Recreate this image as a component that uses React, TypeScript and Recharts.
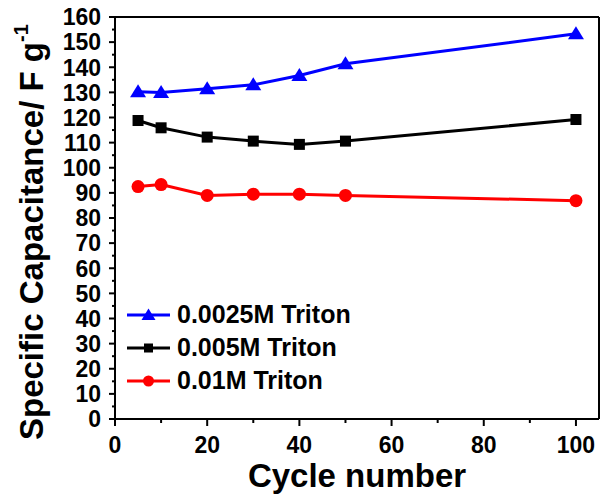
import React from "react";
import {
  LineChart,
  Line,
  XAxis,
  YAxis,
  ReferenceLine,
} from "recharts";

// cycle numbers measured
const cycles = [5, 10, 20, 30, 40, 50, 100];

// specific capacitance (F g-1) for each Triton concentration
const triton0025 = [130.2, 130.0, 131.4, 133.0, 136.7, 141.4, 153.3];
const triton005 = [118.8, 115.9, 112.2, 110.6, 109.3, 110.6, 119.2];
const triton01 = [92.5, 93.3, 89.0, 89.5, 89.5, 89.0, 86.9];

const seriesNames = ["0.0025M Triton", "0.005M Triton", "0.01M Triton"];

const xTicks = [0, 10, 20, 30, 40, 50, 60, 70, 80, 90, 100];
const yTicks = [
  0, 5, 10, 15, 20, 25, 30, 35, 40, 45, 50, 55, 60, 65, 70, 75, 80, 85, 90,
  95, 100, 105, 110, 115, 120, 125, 130, 135, 140, 145, 150, 155, 160,
];

const data = cycles.map((c, i) => ({
  cycle: c,
  a: triton0025[i],
  b: triton005[i],
  c: triton01[i],
}));

const FONT = "'Liberation Sans', Arial, sans-serif";

const Triangle = (props: any) => {
  const { cx, cy, fill, index } = props;
  if (cx == null || cy == null) return null;
  return (
    <polygon
      key={`tri-${index}`}
      points={`${cx},${cy - 7.5} ${cx - 8},${cy + 5.5} ${cx + 8},${cy + 5.5}`}
      fill={fill}
    />
  );
};

const Square = (props: any) => {
  const { cx, cy, fill, index } = props;
  if (cx == null || cy == null) return null;
  return (
    <rect key={`sq-${index}`} x={cx - 5.5} y={cy - 5.5} width={11} height={11} fill={fill} />
  );
};

const Dot = (props: any) => {
  const { cx, cy, fill, index } = props;
  if (cx == null || cy == null) return null;
  return <circle key={`ci-${index}`} cx={cx} cy={cy} r={6.5} fill={fill} />;
};

const YTick = (props: any) => {
  const { x, y, payload } = props;
  const major = payload.value % 10 === 0;
  return (
    <g>
      <line x1={x - (major ? 6 : 3)} x2={x} y1={y} y2={y} stroke="#000" strokeWidth={2} />
      {major && (
        <text
          x={x - 14}
          y={y}
          dy="0.36em"
          textAnchor="end"
          fontFamily={FONT}
          fontWeight="bold"
          fontSize={23}
          fill="#000"
        >
          {payload.value}
        </text>
      )}
    </g>
  );
};

const XTick = (props: any) => {
  const { x, y, payload } = props;
  const major = payload.value % 20 === 0;
  return (
    <g>
      <line x1={x} x2={x} y1={y} y2={y + (major ? 7 : 4)} stroke="#000" strokeWidth={2} />
      {major && (
        <text
          x={x}
          y={y + 34}
          textAnchor="middle"
          fontFamily={FONT}
          fontWeight="bold"
          fontSize={23}
          fill="#000"
        >
          {payload.value}
        </text>
      )}
    </g>
  );
};

const YLabel = (props: any) => {
  const { viewBox } = props;
  const x = viewBox.x + 43;
  const y = viewBox.y + viewBox.height + 21;
  return (
    <text
      x={x}
      y={y}
      transform={`rotate(-90, ${x}, ${y})`}
      fontFamily={FONT}
      fontWeight="bold"
      fontSize={33}
      fill="#000"
    >
      Specific Capacitance/ F g
      <tspan dy={-15} fontSize={20}>
        -1
      </tspan>
    </text>
  );
};

const XLabel = (props: any) => {
  const { viewBox } = props;
  return (
    <text
      x={viewBox.x + viewBox.width / 2}
      y={viewBox.y + 68}
      textAnchor="middle"
      fontFamily={FONT}
      fontWeight="bold"
      fontSize={33}
      fill="#000"
    >
      Cycle number
    </text>
  );
};

const legendItems = [
  { name: seriesNames[0], color: "#0000FF", shape: "triangle" },
  { name: seriesNames[1], color: "#000000", shape: "square" },
  { name: seriesNames[2], color: "#FF0000", shape: "circle" },
];

const LegendMarker = ({ color, shape }: { color: string; shape: string }) => (
  <svg width={46} height={20} style={{ display: "block" }}>
    <line x1={1} x2={44} y1={10} y2={10} stroke={color} strokeWidth={3} />
    {shape === "triangle" && (
      <polygon points="22.5,3.5 15.5,15 29.5,15" fill={color} />
    )}
    {shape === "square" && <rect x={18} y={5.5} width={9} height={9} fill={color} />}
    {shape === "circle" && <circle cx={22.5} cy={10} r={5.5} fill={color} />}
  </svg>
);

const ChartLegend = () => (
  <div
    style={{
      position: "absolute",
      left: 126,
      top: 298,
      fontFamily: FONT,
      fontWeight: "bold",
      fontSize: 25,
      color: "#000",
    }}
  >
    {legendItems.map((it) => (
      <div
        key={it.name}
        style={{ display: "flex", alignItems: "center", height: 33, gap: 5 }}
      >
        <LegendMarker color={it.color} shape={it.shape} />
        <span style={{ lineHeight: "33px" }}>{it.name}</span>
      </div>
    ))}
  </div>
);

export default function App() {
  return (
    <div style={{ position: "absolute", left: 0, top: 0, width: 602, height: 500, background: "#fff" }}>
      <LineChart
        width={602}
        height={500}
        data={data}
        margin={{ top: 17, right: 3, left: 0, bottom: 0 }}
      >
        <XAxis
          dataKey="cycle"
          type="number"
          domain={[0, 105]}
          ticks={xTicks}
          interval={0}
          height={81}
          tickSize={0}
          tickMargin={0}
          tickLine={false}
          tick={<XTick />}
          axisLine={{ stroke: "#000", strokeWidth: 2 }}
          allowDataOverflow
          label={<XLabel />}
        />
        <YAxis
          type="number"
          domain={[0, 160]}
          ticks={yTicks}
          interval={0}
          width={115}
          tickSize={0}
          tickMargin={0}
          tickLine={false}
          tick={<YTick />}
          axisLine={{ stroke: "#000", strokeWidth: 2 }}
          allowDataOverflow
          label={<YLabel />}
        />
        <ReferenceLine y={160} stroke="#000" strokeWidth={2} />
        <ReferenceLine x={105} stroke="#000" strokeWidth={2} />
        <Line
          dataKey="a"
          name={seriesNames[0]}
          stroke="#0000FF"
          fill="#0000FF"
          strokeWidth={3}
          dot={<Triangle />}
          isAnimationActive={false}
        />
        <Line
          dataKey="b"
          name={seriesNames[1]}
          stroke="#000000"
          fill="#000000"
          strokeWidth={3}
          dot={<Square />}
          isAnimationActive={false}
        />
        <Line
          dataKey="c"
          name={seriesNames[2]}
          stroke="#FF0000"
          fill="#FF0000"
          strokeWidth={3}
          dot={<Dot />}
          isAnimationActive={false}
        />
      </LineChart>
      <ChartLegend />
    </div>
  );
}
